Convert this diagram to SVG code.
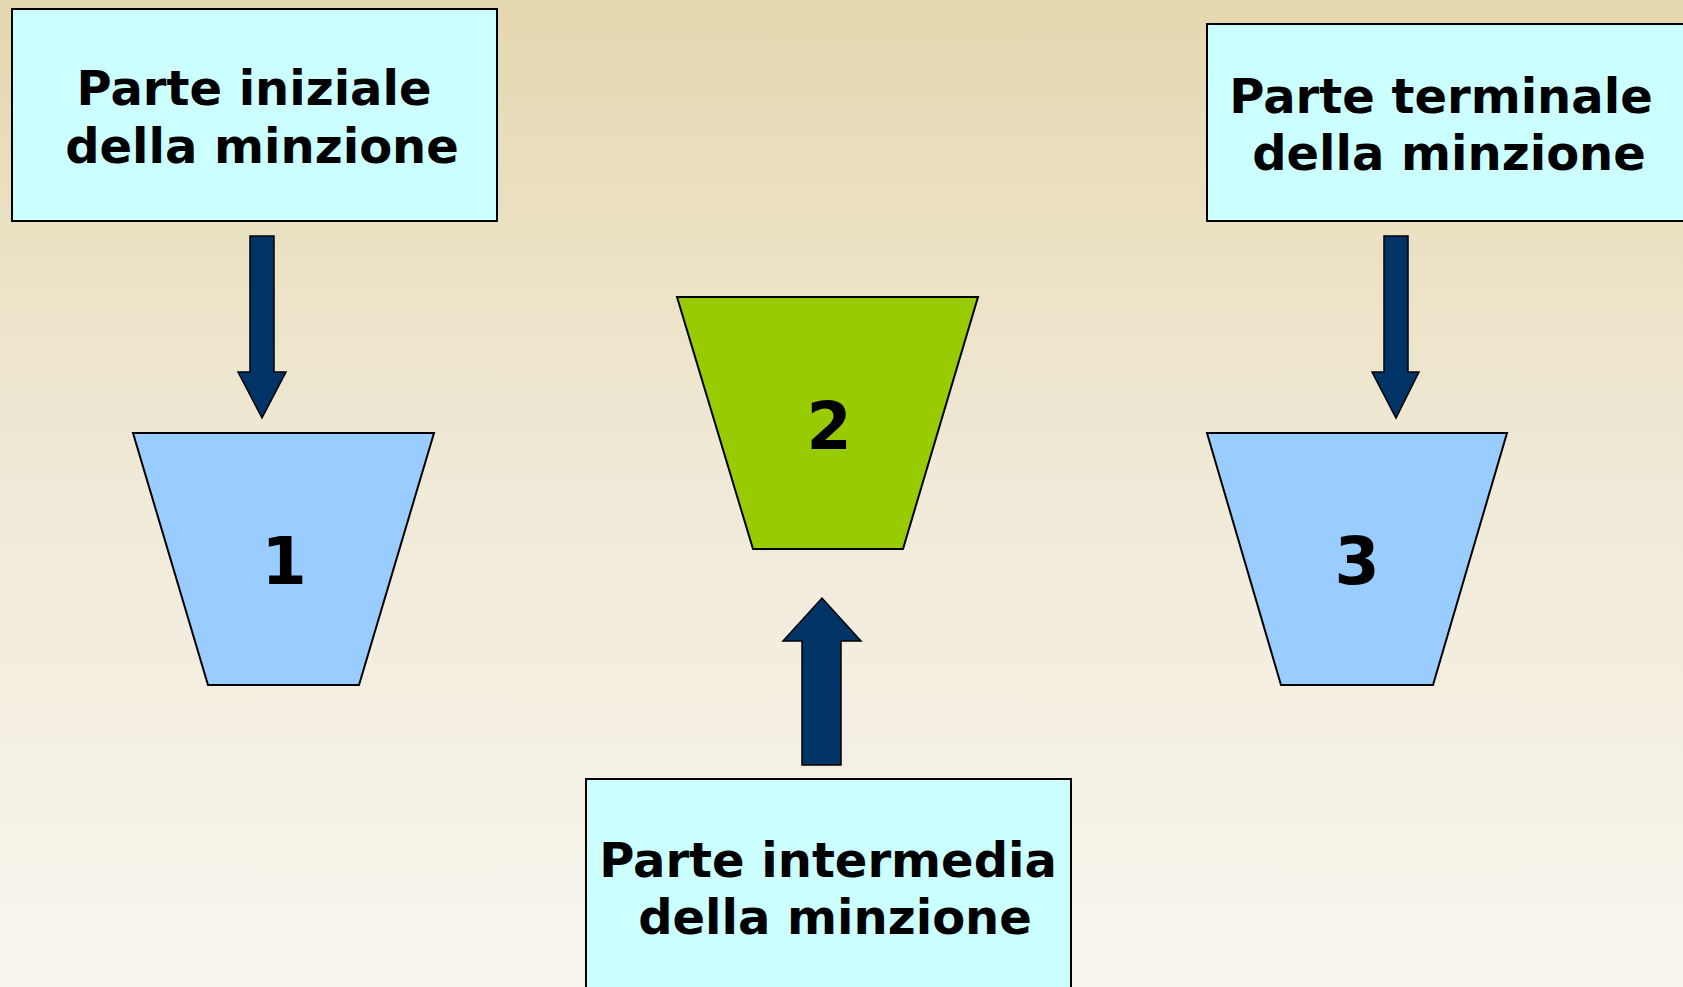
<svg xmlns="http://www.w3.org/2000/svg" width="1683" height="987" viewBox="0 0 1683 987">
<defs>
<linearGradient id="bg" x1="0" y1="0" x2="0" y2="1">
<stop offset="0" stop-color="#E5D8B0"/>
<stop offset="0.5" stop-color="#F0EAD8"/>
<stop offset="1" stop-color="#F8F5EE"/>
</linearGradient>
<style>
.box{fill:#CCFFFF;stroke:#000;stroke-width:2}
.lbl{font-family:"DejaVu Sans",Verdana,sans-serif;font-weight:bold;font-size:48px;fill:#000;text-anchor:middle}
.num{font-family:"DejaVu Sans",Verdana,sans-serif;font-weight:bold;font-size:65px;fill:#000;text-anchor:middle}
.blue{fill:#99CCFF;stroke:#000;stroke-width:2}
.green{fill:#99CC00;stroke:#000;stroke-width:2}
.arr{fill:#003366;stroke:#000;stroke-width:1.5}
</style>
</defs>
<rect x="0" y="0" width="1683" height="987" fill="url(#bg)"/>
<g id="box1">
<rect class="box" x="12" y="9" width="485" height="212"/>
<text class="lbl" x="254" y="105">Parte iniziale</text>
<text class="lbl" x="262" y="163">della minzione</text>
</g>
<g id="box3">
<rect class="box" x="1207" y="24" width="490" height="197"/>
<text class="lbl" x="1441" y="113">Parte terminale</text>
<text class="lbl" x="1449" y="170">della minzione</text>
</g>
<g id="box2">
<rect class="box" x="586" y="779" width="485" height="220"/>
<text class="lbl" x="828" y="877">Parte intermedia</text>
<text class="lbl" x="835" y="934">della minzione</text>
</g>
<g id="trap1">
<polygon class="blue" points="133,433 434,433 359,685 208,685"/>
<text class="num" x="284" y="584">1</text>
</g>
<g id="trap2">
<polygon class="green" points="677,297 978,297 903,549 753,549"/>
<text class="num" x="829" y="449">2</text>
</g>
<g id="trap3">
<polygon class="blue" points="1207,433 1507,433 1433,685 1281,685"/>
<text class="num" x="1357" y="584">3</text>
</g>
<g id="connectors">
<polygon class="arr" points="250,236 274,236 274,372 286,372 262,418 238,372 250,372"/>
<polygon class="arr" points="1384,236 1408,236 1408,372 1419,372 1396,418 1372,372 1384,372"/>
<polygon class="arr" points="802,765 841,765 841,641 861,641 822,598 783,641 802,641"/>
</g>
</svg>
